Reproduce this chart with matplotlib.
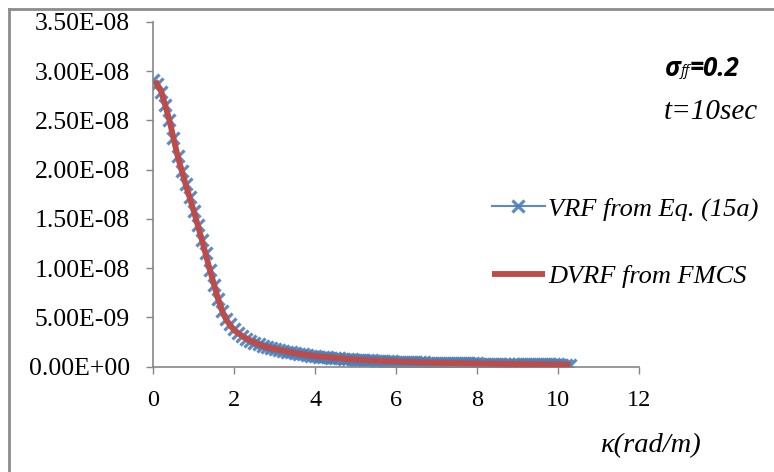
import numpy as np
import matplotlib
matplotlib.use("Agg")
import matplotlib.pyplot as plt
from matplotlib.lines import Line2D

# wavenumber grid (rad/m) and VRF values (x1e-8)
kappa = np.round(np.arange(0, 10.35, 0.1), 1)
vrf = [
    2.91, 2.87, 2.79, 2.66, 2.50, 2.32, 2.14, 1.99, 1.85, 1.72,
    1.58, 1.44, 1.29, 1.15, 0.98, 0.83, 0.69, 0.57, 0.48, 0.43,
    0.38, 0.34, 0.31, 0.285, 0.265, 0.245, 0.23, 0.21, 0.20, 0.19,
    0.180, 0.170, 0.160, 0.152, 0.145, 0.138, 0.131, 0.125, 0.119, 0.113,
    0.108, 0.103, 0.099, 0.095, 0.091, 0.087, 0.084, 0.081, 0.078, 0.075,
    0.072, 0.070, 0.068, 0.066, 0.064, 0.062, 0.060, 0.058, 0.056, 0.055,
    0.053, 0.052, 0.050, 0.049, 0.048, 0.046, 0.045, 0.044, 0.043, 0.042,
    0.041, 0.040, 0.039, 0.038, 0.037, 0.037, 0.036, 0.035, 0.034, 0.034,
    0.033, 0.032, 0.032, 0.031, 0.030, 0.030, 0.029, 0.029, 0.028, 0.028,
    0.027, 0.027, 0.026, 0.026, 0.025, 0.025, 0.024, 0.024, 0.024, 0.023,
    0.023, 0.022, 0.022, 0.022,
]

# simulated DVRF (x1e-8)
kappa_sim = [0.05, 0.2, 0.4, 0.6, 0.8, 1.0, 1.2, 1.4, 1.6, 1.7, 1.8, 1.9, 2.0,
             2.2, 2.4, 2.7, 3.0, 3.5, 4.0, 5.0, 6.0, 7.0, 8.0, 9.0, 10.3]
dvrf = [2.90, 2.79, 2.50, 2.14, 1.85, 1.58, 1.29, 0.98, 0.69, 0.57, 0.48, 0.42,
        0.37, 0.31, 0.265, 0.21, 0.18, 0.138, 0.108, 0.072, 0.053, 0.041,
        0.033, 0.027, 0.022]

y_ticks = [0, 0.5e-8, 1.0e-8, 1.5e-8, 2.0e-8, 2.5e-8, 3.0e-8, 3.5e-8]
y_labels = ["0.00E+00", "5.00E-09", "1.00E-08", "1.50E-08",
            "2.00E-08", "2.50E-08", "3.00E-08", "3.50E-08"]
x_ticks = [0, 2, 4, 6, 8, 10, 12]

serif = "Liberation Serif"
grey = "#868686"

fig = plt.figure(figsize=(7.74, 4.72), dpi=100)
ax = fig.add_axes([0.198, 0.223, 0.6276, 0.731])

ax.plot(kappa, np.array(vrf) * 1e-8, color="#4a7ebb", lw=1.5, marker="x",
        ms=8.5, mew=2.3, alpha=0.9, label="VRF from Eq. (15a)", zorder=2)
ax.plot(kappa_sim, np.array(dvrf) * 1e-8, color="#be4b48", lw=4.2,
        solid_capstyle="butt", label="DVRF from FMCS", zorder=3)

ax.set_xlim(0, 12)
ax.set_ylim(0, 3.5e-8)
ax.set_xticks(x_ticks)
ax.set_xticklabels([str(v) for v in x_ticks], fontfamily=serif, fontsize=17.5)
ax.set_yticks(y_ticks)
ax.set_yticklabels(y_labels, fontfamily=serif, fontsize=18.5)
ax.tick_params(axis="y", direction="out", length=5, width=1, color=grey, pad=12)
ax.tick_params(axis="x", direction="out", length=5, width=1, color=grey, pad=12)
for side in ["top", "right"]:
    ax.spines[side].set_visible(False)
for side in ["left", "bottom"]:
    ax.spines[side].set_color(grey)
    ax.spines[side].set_linewidth(1.2)

leg = fig.legend(handles=ax.get_lines(), loc="center left",
                 bbox_to_anchor=(0.6357, 0.4862), frameon=False,
                 prop={"family": serif, "style": "italic", "size": 19},
                 handlelength=2.0, handletextpad=0.12, labelspacing=1.65,
                 borderpad=0, borderaxespad=0)

# annotations on the right
s1 = fig.text(0.859, 0.84, "σ", fontfamily="Open Sans", fontstyle="italic",
              fontweight="bold", fontsize=18.5, va="baseline")
s2 = ax.annotate("ff", xy=(1, 0), xycoords=s1, xytext=(0, 1.5),
                 textcoords="offset points", fontfamily="Open Sans",
                 fontstyle="italic", fontsize=10.5, va="bottom")
ax.annotate("=0.2", xy=(1, 0), xycoords=s2, xytext=(0, -1.5),
            textcoords="offset points", fontfamily="Open Sans",
            fontstyle="italic", fontweight="bold", fontsize=18.5, va="bottom")
fig.text(0.979, 0.748, "t=10sec", fontfamily=serif, fontstyle="italic",
         fontsize=21, ha="right", va="baseline")
fig.text(0.841, 0.042, "κ(rad/m)", fontfamily=serif, fontstyle="italic",
         fontsize=20.5, ha="center", va="baseline")

# chart area border
fig.add_artist(Line2D([0.0116, 1.0], [0.981, 0.981], color="#8c8c8c", lw=2,
                      transform=fig.transFigure))
fig.add_artist(Line2D([0.0116, 0.0116], [0.0, 0.981], color="#8c8c8c", lw=2,
                      transform=fig.transFigure))

fig.savefig("out.png", dpi=100)
